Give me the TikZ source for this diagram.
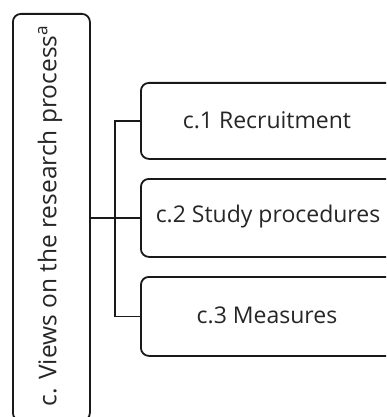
\documentclass[tikz,border=0pt]{standalone}
\usepackage{fontspec}
\setmainfont{Open Sans}
\begin{document}
\begin{tikzpicture}[x=1pt,y=-1pt,
  frame/.style={draw=black!90, line width=1.8pt, rounded corners=8pt, fill=white},
  label/.style={text=black!85, font=\fontsize{23}{27}\selectfont},
  biglabel/.style={text=black!85, font=\fontsize{24.5}{28}\selectfont},
  link/.style={draw=black!90, line width=1.8pt}]
\useasboundingbox (0,0) rectangle (386,417);
\clip (0,0) rectangle (386,417);
% parent box (runs off the bottom edge)
\node[frame, minimum width=77pt, minimum height=407pt, anchor=north west] (parent) at (12,13) {};
\node[biglabel, rotate=90] (ptext) at (50,216) {c. Views on the research process\textsuperscript{a}};
% child boxes (run off the right edge)
\node[frame, minimum width=256pt, minimum height=76pt, anchor=north west] (c1) at (140,82) {};
\node[frame, minimum width=256pt, minimum height=78pt, anchor=north west] (c2) at (140,178) {};
\node[frame, minimum width=256pt, minimum height=79pt, anchor=north west] (c3) at (140,276) {};
\node[label] (t1) at (267,120) {c.1 Recruitment};
\node[label] (t2) at (268,217) {c.2 Study procedures};
\node[label] (t3) at (267,315.5) {c.3 Measures};
% bracket connector
\coordinate (bus) at (115,217);
\draw[link] (parent.east |- c2.west) -- (c2.west);
\draw[link] (c1.west) -| (bus) |- (c3.west);
\end{tikzpicture}
\end{document}
